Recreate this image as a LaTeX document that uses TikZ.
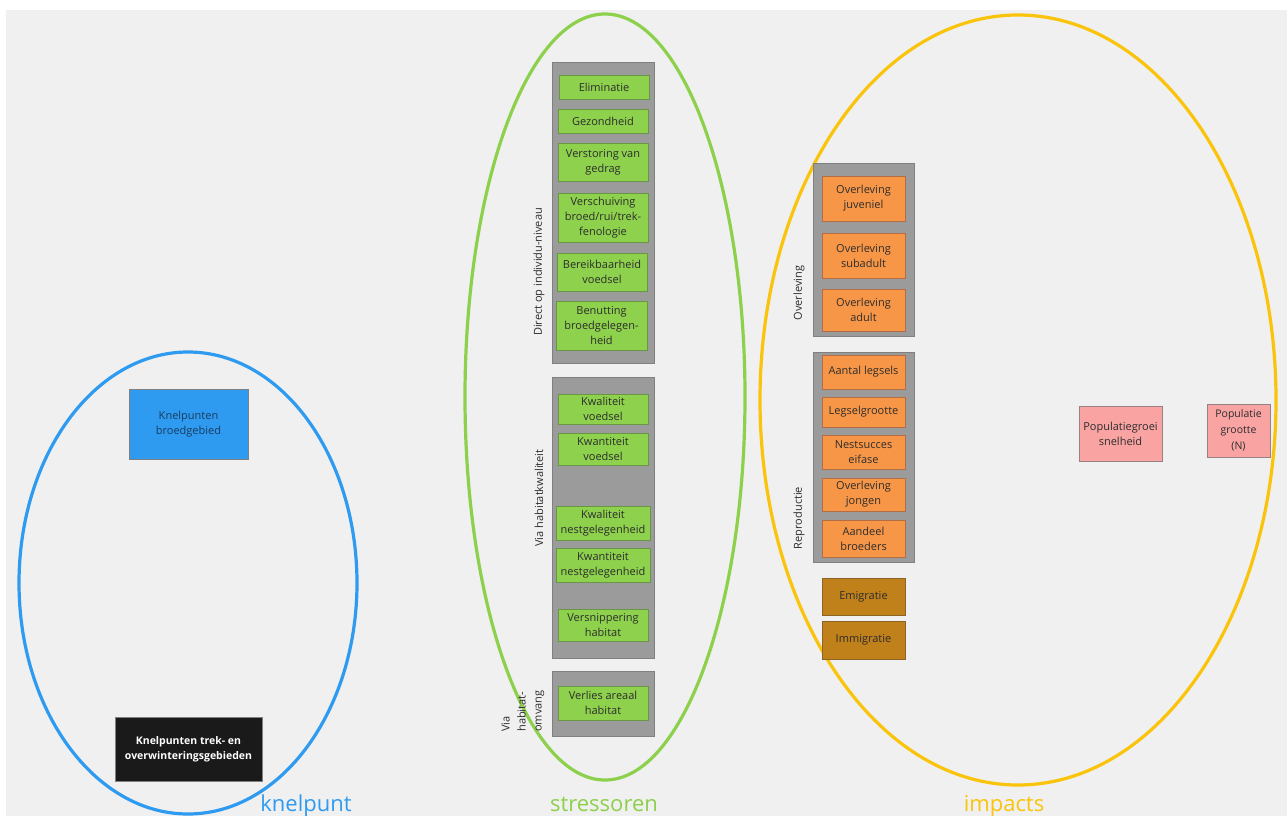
\documentclass[tikz,border=0pt]{standalone}
\usepackage{fontspec}
\setmainfont{Open Sans}
\definecolor{bggray}{RGB}{240, 240, 240}
\definecolor{knelblue}{RGB}{46, 155, 240}
\definecolor{stressline}{RGB}{140, 208, 75}
\definecolor{impactline}{RGB}{250, 196, 12}
\definecolor{stressgreen}{RGB}{141, 209, 77}
\definecolor{stressedge}{RGB}{105, 150, 70}
\definecolor{impactorange}{RGB}{247, 150, 70}
\definecolor{impactedge}{RGB}{180, 110, 70}
\definecolor{migbrown}{RGB}{192, 128, 26}
\definecolor{migedge}{RGB}{140, 100, 40}
\definecolor{popred}{RGB}{249, 163, 163}
\definecolor{popedge}{RGB}{150, 130, 130}
\definecolor{panelgray}{RGB}{155, 155, 155}
\definecolor{paneledge}{RGB}{128, 128, 128}
\definecolor{boxtext}{RGB}{45, 45, 45}
\definecolor{knelbluetext}{RGB}{25, 60, 95}
\definecolor{nightbox}{RGB}{26, 26, 26}
\usetikzlibrary{positioning}

\begin{document}
\begin{tikzpicture}[x=1pt, y=-1pt,
  boxsize/.style 2 args={minimum width=#1pt, minimum height=#2pt},
  cell/.style={rectangle, inner sep=1pt, align=center, line width=0.8pt, text=boxtext,
    font=\fontsize{11}{15}\selectfont},
  panel/.style={rectangle, draw=paneledge, fill=panelgray, line width=0.8pt, inner sep=0pt},
  stressbox/.style={cell, draw=stressedge, fill=stressgreen},
  impactbox/.style={cell, draw=impactedge, fill=impactorange},
  migbox/.style={cell, draw=migedge, fill=migbrown},
  popbox/.style={cell, draw=popedge, fill=popred},
  sidelabel/.style={rotate=90, align=left, text=boxtext, font=\fontsize{11}{16}\selectfont},
  grouplabel/.style={anchor=base, font=\fontsize{22}{26}\selectfont},
  ring/.style={line width=3.2pt}]

  % canvas
  \useasboundingbox (0,0) rectangle (1287,816);
  \fill[white] (0,0) rectangle (1287,816);
  \fill[bggray] (6,10) rectangle (1287,816);

  % the three groups
  \draw[ring, knelblue] (188,583) ellipse [x radius=169pt, y radius=231pt];
  \draw[ring, stressline] (605,397) ellipse [x radius=140pt, y radius=383pt];
  \draw[ring, impactline] (1018,400) ellipse [x radius=258pt, y radius=385pt];

  \node[grouplabel, text=knelblue] (l-knel) at (306,811) {knelpunt};
  \node[grouplabel, text=stressline] (l-stress) at (604,811) {stressoren};
  \node[grouplabel, text=impactline] (l-impact) at (1004,811) {impacts};

  % knelpunten
  \node[cell, boxsize={119}{70}, draw=paneledge, fill=knelblue, text=knelbluetext] (k-broed) at (188.5,424) {Knelpunten\\broedgebied};
  \node[cell, boxsize={147}{64}, draw=paneledge, fill=nightbox, text=white, font=\fontsize{10.5}{15}\selectfont\bfseries] (k-trek) at (188.5,749) {Knelpunten trek- en\\overwinteringsgebieden};

  % stressoren: panels
  \node[panel, boxsize={102}{301}] (p-direct) at (603,212.5) {};
  \node[panel, boxsize={102}{281}] (p-kwal) at (603,517.5) {};
  \node[panel, boxsize={102}{65}] (p-omvang) at (603,703.5) {};

  \node[sidelabel] (l-direct) at (539,272) {Direct op individu-niveau};
  \node[sidelabel] (l-kwal) at (539,498) {Via habitatkwaliteit};
  \node[sidelabel] (l-omvang) at (523,711) {Via\\habitat-\\omvang};

  % stressoren: boxes
  \node[stressbox, boxsize={90}{24}] (s-elim) at (604,87) {Eliminatie};
  \node[stressbox, boxsize={90}{24}] (s-gezond) at (603,121) {Gezondheid};
  \node[stressbox, boxsize={90}{38}] (s-verst) at (603,162) {Verstoring van\\gedrag};
  \node[stressbox, boxsize={90}{49}] (s-versch) at (603,217.5) {Verschuiving\\broed/rui/trek-\\fenologie};
  \node[stressbox, boxsize={90}{38}] (s-bereik) at (602,272) {Bereikbaarheid\\voedsel};
  \node[stressbox, boxsize={91}{49}] (s-benut) at (601.5,325.5) {Benutting\\broedgelegen-\\heid};

  \node[stressbox, boxsize={90}{30}] (s-kwalv) at (603,409) {Kwaliteit\\voedsel};
  \node[stressbox, boxsize={90}{32}] (s-kwanv) at (603,449) {Kwantiteit\\voedsel};
  \node[stressbox, boxsize={94}{34}] (s-kwaln) at (603,523) {Kwaliteit\\nestgelegenheid};
  \node[stressbox, boxsize={94}{34}] (s-kwann) at (603,565) {Kwantiteit\\nestgelegenheid};
  \node[stressbox, boxsize={90}{32}] (s-versn) at (603,625) {Versnippering\\habitat};

  \node[stressbox, boxsize={90}{34}] (s-areaal) at (603,703) {Verlies areaal\\habitat};

  % impacts
  \node[panel, boxsize={101}{173}] (p-overl) at (863.5,249.5) {};
  \node[panel, boxsize={101}{210}] (p-repro) at (863.5,457) {};

  \node[sidelabel] (l-overl) at (799,293) {Overleving};
  \node[sidelabel] (l-repro) at (799,518) {Reproductie};

  \node[impactbox, boxsize={83}{45}] (i-juv) at (863.5,198.5) {Overleving\\juveniel};
  \node[impactbox, boxsize={83}{45}] (i-sub) at (863.5,255.5) {Overleving\\subadult};
  \node[impactbox, boxsize={83}{42}] (i-adult) at (863.5,310) {Overleving\\adult};

  \node[impactbox, boxsize={83}{34}] (i-aantal) at (863.5,372) {Aantal legsels};
  \node[impactbox, boxsize={83}{30}] (i-legsel) at (863.5,412) {Legselgrootte};
  \node[impactbox, boxsize={83}{34}] (i-nest) at (863.5,452) {Nestsucces\\eifase};
  \node[impactbox, boxsize={83}{33}] (i-jongen) at (863.5,494.5) {Overleving\\jongen};
  \node[impactbox, boxsize={83}{37}] (i-broed) at (863.5,538.5) {Aandeel\\broeders};

  \node[migbox, boxsize={83}{37}] (m-emi) at (863.5,596.5) {Emigratie};
  \node[migbox, boxsize={83}{38}] (m-immi) at (863.5,640) {Immigratie};

  \node[popbox, boxsize={83}{55}] (n-groei) at (1120.5,433.5) {Populatiegroei\\snelheid};
  \node[popbox, boxsize={63}{53}, font=\fontsize{10.5}{16}\selectfont] (n-grootte) at (1238.5,430.5) {Populatie\\grootte\\(N)};
\end{tikzpicture}
\end{document}
